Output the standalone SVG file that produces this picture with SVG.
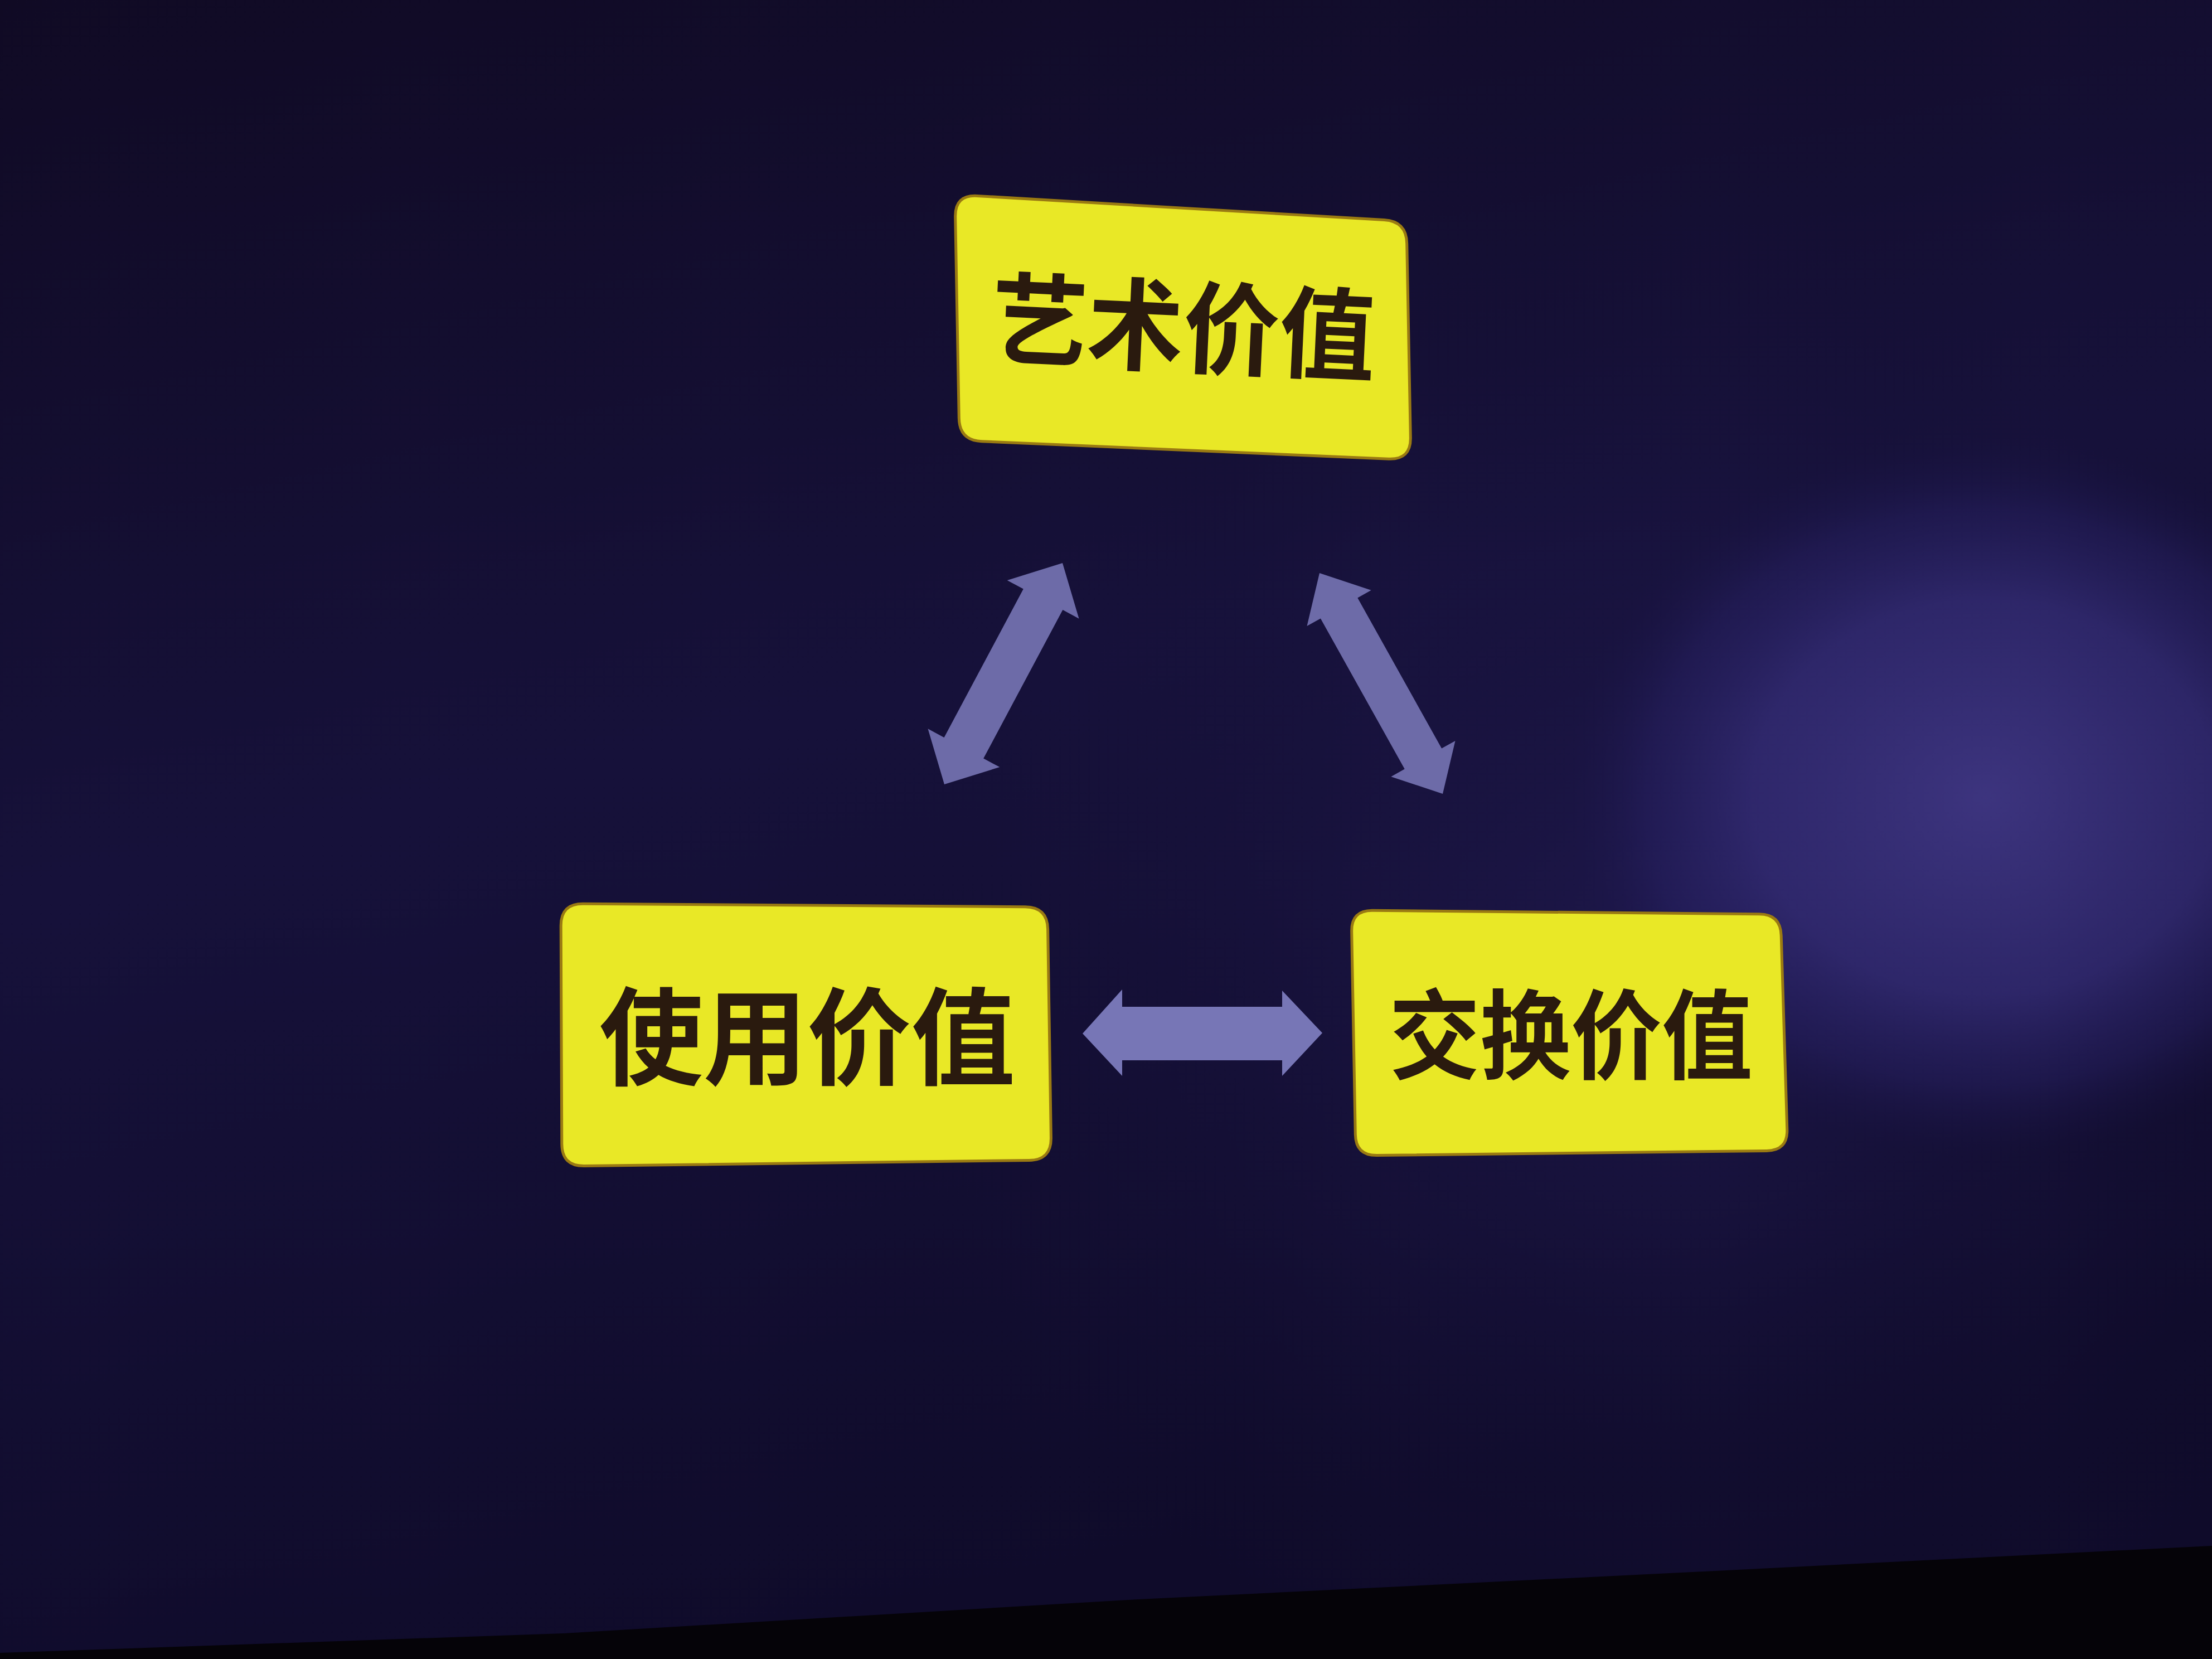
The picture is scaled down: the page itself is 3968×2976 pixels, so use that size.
<svg xmlns="http://www.w3.org/2000/svg" width="3968" height="2976" viewBox="0 0 3968 2976">
<defs>
<linearGradient id="bg" x1="0" y1="0" x2="0.3" y2="1">
<stop offset="0" stop-color="#100a24"/>
<stop offset="0.5" stop-color="#16113a"/>
<stop offset="1" stop-color="#0f0b2a"/>
</linearGradient>
<radialGradient id="glow" cx="3560" cy="1430" r="760" gradientUnits="userSpaceOnUse" gradientTransform="translate(3560 1430) scale(1 0.85) translate(-3560 -1430)">
<stop offset="0" stop-color="#433a8a" stop-opacity="0.85"/>
<stop offset="0.55" stop-color="#372f7c" stop-opacity="0.7"/>
<stop offset="0.8" stop-color="#2a236a" stop-opacity="0.4"/>
<stop offset="1" stop-color="#1a1448" stop-opacity="0"/>
</radialGradient>
<radialGradient id="glow2" cx="3000" cy="1700" r="1400" gradientUnits="userSpaceOnUse">
<stop offset="0" stop-color="#241d5a" stop-opacity="0.6"/>
<stop offset="1" stop-color="#150f35" stop-opacity="0"/>
</radialGradient>
</defs>
<style>
.box{fill:#e9e826;stroke:#9a7a12;stroke-width:5}
.lbl{font-family:"Noto Sans CJK SC","Noto Sans CJK TC",sans-serif;font-weight:700;fill:#2a1a0e;text-anchor:middle}
.arr{fill:#6d6ba8}
.arrh{fill:#7776b6}
</style>
<rect x="0" y="0" width="3968" height="2976" fill="url(#bg)"/>
<rect x="0" y="0" width="3968" height="2976" fill="url(#glow2)"/>
<rect x="0" y="0" width="3968" height="2976" fill="url(#glow)"/>
<polygon points="0,2976 0,2965 1012,2930 2024,2870 3036,2820 3968,2773 3968,2976" fill="#050308"/>

<g id="connectors">
<polygon class="arr" points="1906,1010 1935.5,1109.7 1906.4,1094.1 1764.2,1360.5 1793.3,1376.1 1694,1407 1664.5,1307.3 1693.6,1322.9 1835.8,1056.5 1806.7,1040.9"/>
<polygon class="arr" points="2367,1028 2459.7,1058.7 2435.3,1072.4 2586.1,1342.6 2610.5,1328.9 2588,1424 2495.3,1393.3 2519.7,1379.6 2368.9,1109.4 2344.5,1123.1"/>
<polygon class="arrh" points="1942,1854 2013,1775 2013,1806 2300,1806 2300,1777 2372,1853 2300,1930 2300,1902 2013,1902 2013,1930"/>
</g>

<g id="node-art">
<path class="box" d="M1753,351.4 L2483.1,394.6 Q2523,397 2523.7,437 L2530.3,785 Q2531,825 2491,823.3 L1761,791.7 Q1721,790 1720.3,750 L1713.7,389 Q1713,349 1753,351.4 Z"/>
<text class="lbl" x="2123" y="654" font-size="180" textLength="690" lengthAdjust="spacingAndGlyphs" transform="rotate(2.7 2123 585)">艺术价值</text>
</g>

<g id="node-use">
<path class="box" d="M1046,1621.3 L1839,1626.7 Q1879,1627 1879.6,1667 L1885.4,2041 Q1886,2081 1846,2081.5 L1048,2091.5 Q1008,2092 1007.8,2052 L1006.2,1661 Q1006,1621 1046,1621.3 Z"/>
<text class="lbl" x="1448" y="1931" font-size="190" textLength="746" lengthAdjust="spacingAndGlyphs">使用价值</text>
</g>

<g id="node-exchange">
<path class="box" d="M2462,1633.3 L3156,1639.7 Q3194,1640 3195.2,1678 L3205.8,2026 Q3207,2064 3169,2064.4 L2470,2072.6 Q2432,2073 2431.3,2035 L2424.7,1671 Q2424,1633 2462,1633.3 Z"/>
<text class="lbl" x="2818" y="1922" font-size="175" textLength="652" lengthAdjust="spacingAndGlyphs">交换价值</text>
</g>
</svg>
